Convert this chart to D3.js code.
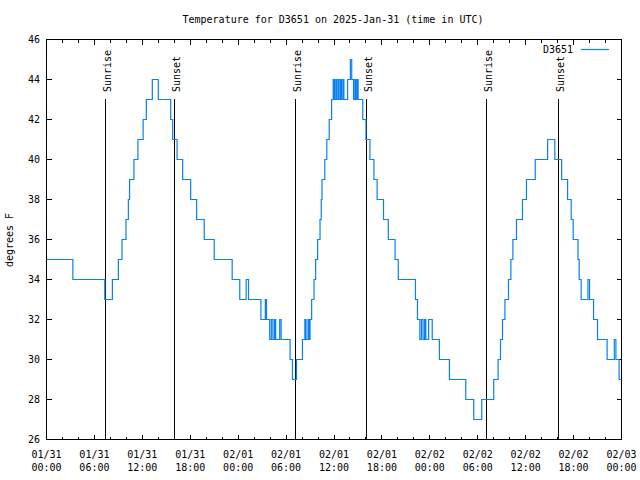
<!DOCTYPE html>
<html>
<head>
<meta charset="utf-8">
<script src="https://cdn.jsdelivr.net/npm/d3@7"></script>
<style>
  html, body { margin: 0; padding: 0; background: #fff; }
  svg { display: block; }
  text { font-family: "DejaVu Sans Mono", "Liberation Mono", monospace; font-size: 10px; fill: #000; }
</style>
</head>
<body>
<svg id="chart" width="640" height="480"></svg>
<script>
// ---- data (hours since 2025-01-31 00:00 UTC, temperature in °F; each value holds until the next time) ----
const hours = [0,3.3,7.3,8.25,9.0,9.45,9.95,10.25,10.4,10.95,11.45,12.1,12.5,13.25,14.0,15.55,15.8,16.35,17.05,18.05,18.8,19.75,21.0,23.25,24.2,25.0,25.3,26.85,27.4,27.55,27.95,28.15,28.35,28.55,28.7,29.2,29.38,30.5,30.8,31.3,32.05,32.35,32.5,32.75,32.87,33.0,33.2,33.5,33.7,33.95,34.25,34.4,34.5,34.85,35.1,35.4,35.7,35.9,36.05,36.22,36.34,36.52,36.64,36.82,36.94,37.12,37.24,37.7,38.05,38.22,38.45,38.62,38.74,38.9,39.02,39.6,40.0,40.5,41.0,41.4,42.2,42.8,43.65,44.05,46.2,46.45,46.75,46.95,47.15,47.35,47.5,47.85,48.3,49.2,50.45,52.5,53.5,54.5,56.0,56.55,56.85,57.1,57.4,57.85,58.15,58.4,58.85,59.6,60.1,61.2,62.75,63.65,64.5,65.25,65.7,65.95,66.55,66.7,66.95,67.8,68.0,68.5,69.0,70.2,71.1,71.3,71.7,72];
const temps = [35,34,33,34,35,36,37,38,39,40,41,42,43,44,43,42,41,40,39,38,37,36,35,34,33,34,33,32,33,32,31,32,31,32,31,32,31,30,29,30,31,32,31,32,31,32,33,34,35,36,37,38,39,40,41,42,43,44,43,44,43,44,43,44,43,44,43,44,45,44,43,44,43,44,43,42,41,40,39,38,37,36,35,34,33,32,31,32,31,32,31,32,31,30,29,28,27,28,29,30,31,32,33,34,35,36,37,38,39,40,41,40,39,38,37,36,35,34,33,34,33,32,31,30,31,30,29,29];
const seriesName = "D3651";
const sunriseHours = [7.39, 31.24, 55.15];
const sunsetHours = [16.09, 40.13, 64.17];
const xTickHours = [0,6,12,18,24,30,36,42,48,54,60,66,72];
const xTickDates = ["01/31","01/31","01/31","01/31","02/01","02/01","02/01","02/01","02/02","02/02","02/02","02/02","02/03"];
const xTickTimes = ["00:00","06:00","12:00","18:00","00:00","06:00","12:00","18:00","00:00","06:00","12:00","18:00","00:00"];
const yTicks = [26,28,30,32,34,36,38,40,42,44,46];
const titleText = "Temperature for D3651 on 2025-Jan-31 (time in UTC)";
const yTitle = "degrees F";

// ---- drawing ----
const svg = d3.select("#chart");
const x = d3.scaleLinear().domain([0, 72]).range([46, 621]);
const y = d3.scaleLinear().domain([26, 46]).range([439, 39]);
const L = x(0) + 0.5, R = x(72) + 0.5, T = y(46) + 0.5, B = y(26) + 0.5;

// title
svg.append("text").attr("x", 333).attr("y", 23).attr("text-anchor", "middle").text(titleText);

// axis ticks (inward, mirrored)
const minor = d3.range(0, 73, 2).filter(h => h % 6 !== 0);
function tickGroup(axisFn, values, size, tr) {
  const g = svg.append("g").attr("transform", tr)
    .call(axisFn.tickValues(values).tickSize(size).tickFormat(""));
  g.select(".domain").remove();
  g.selectAll("line").attr("stroke", "#000").attr("shape-rendering", "crispEdges");
  return g;
}
tickGroup(d3.axisBottom(x), xTickHours, -5, `translate(0,${B})`);
tickGroup(d3.axisBottom(x), minor, -3, `translate(0,${B})`);
tickGroup(d3.axisTop(x), xTickHours, -5, `translate(0,${T})`);
tickGroup(d3.axisTop(x), minor, -3, `translate(0,${T})`);
tickGroup(d3.axisLeft(y), yTicks, -5, `translate(${L},0)`);
tickGroup(d3.axisRight(y), yTicks, -5, `translate(${R},0)`);

// frame
svg.append("rect").attr("x", L).attr("y", T).attr("width", R - L).attr("height", B - T)
  .attr("fill", "none").attr("stroke", "#000").attr("shape-rendering", "crispEdges");

// y tick labels
svg.append("g").selectAll("text").data(yTicks).join("text")
  .attr("x", 40).attr("y", d => y(d) + 4).attr("text-anchor", "end").text(d => d);

// x tick labels
const xl = svg.append("g").selectAll("g").data(xTickHours).join("g")
  .attr("transform", d => `translate(${x(d) + 0.5},0)`);
xl.append("text").attr("y", 458).attr("text-anchor", "middle").text((d, i) => xTickDates[i]);
xl.append("text").attr("y", 471).attr("text-anchor", "middle").text((d, i) => xTickTimes[i]);

// y axis title
svg.append("text").attr("transform", "translate(13,240) rotate(-90)").attr("text-anchor", "middle").text(yTitle);

// sunrise / sunset markers
const events = sunriseHours.map(h => ({ h, label: "Sunrise" }))
  .concat(sunsetHours.map(h => ({ h, label: "Sunset" })));
const ev = svg.append("g").selectAll("g").data(events).join("g")
  .attr("transform", d => `translate(${Math.floor(x(d.h)) + 0.5},0)`);
ev.append("line").attr("y1", 99).attr("y2", B).attr("stroke", "#000").attr("stroke-width", 1)
  .attr("shape-rendering", "crispEdges");
ev.append("text").attr("transform", "translate(5,92) rotate(-90)").attr("text-anchor", "start").text(d => d.label);

// data line
const pts = hours.map((h, i) => [h, temps[i]]);
const line = d3.line().x(d => x(d[0]) + 0.5).y(d => y(d[1]) + 0.5).curve(d3.curveStepAfter);
svg.append("path").datum(pts).attr("d", line).attr("fill", "none")
  .attr("stroke", "#0a80f0").attr("stroke-width", 1.2);

// legend
svg.append("text").attr("x", 573).attr("y", 53).attr("text-anchor", "end").text(seriesName);
svg.append("line").attr("x1", 581).attr("x2", 609).attr("y1", 49.5).attr("y2", 49.5)
  .attr("stroke", "#0a80f0").attr("stroke-width", 1.2);
</script>
</body>
</html>
